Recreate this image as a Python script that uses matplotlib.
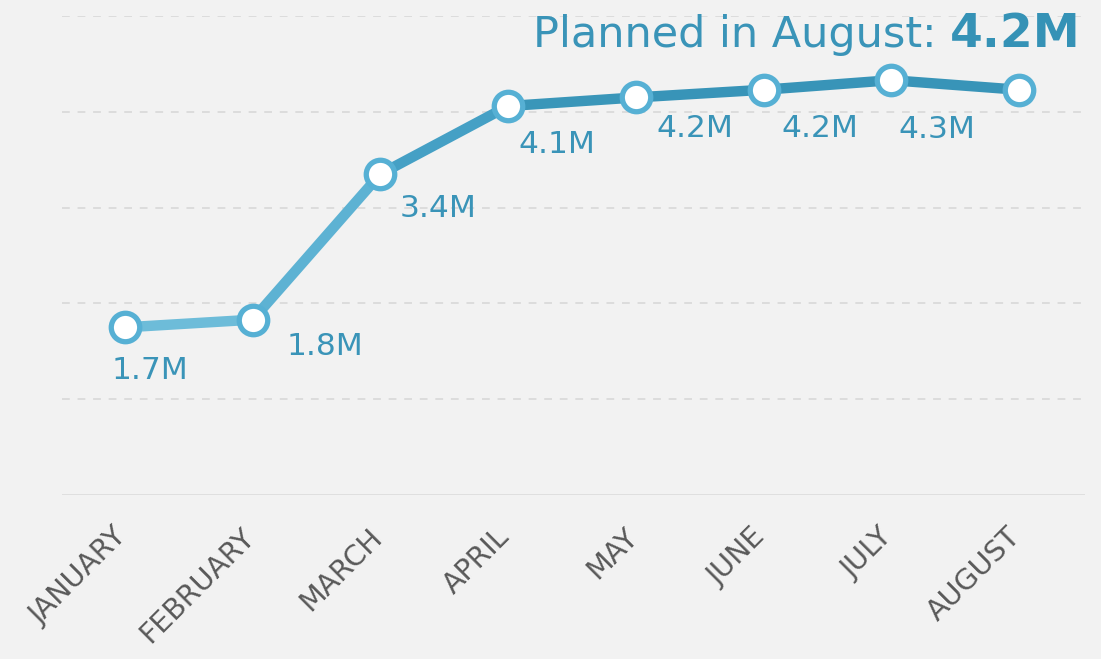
import matplotlib
matplotlib.use("Agg")
import matplotlib.pyplot as plt
import matplotlib.transforms as mtransforms
import numpy as np

months = ["JANUARY", "FEBRUARY", "MARCH", "APRIL", "MAY", "JUNE", "JULY", "AUGUST"]
values = [1.75, 1.83, 3.35, 4.06, 4.15, 4.23, 4.33, 4.23]
value_labels = ["1.7M", "1.8M", "3.4M", "4.1M", "4.2M", "4.2M", "4.3M", ""]
title_prefix = "Planned in August: "
title_value = "4.2M"

# label offsets in pixels (dx, dy downward)
label_offsets = [(25, -43), (72, -27), (58, -34), (49, -38), (59, -31), (56, -39), (46, -49), (0, 0)]
seg_colors = ["#6dbcd9", "#5db2d3", "#45a0c5", "#3a96b9", "#3894b8", "#3894b8", "#3894b8"]

BG = "#f2f2f2"
TXT = "#3a94b8"
W, H = 1101, 659
fig = plt.figure(figsize=(W / 100, H / 100), dpi=100, facecolor=BG)
ax = fig.add_axes([62 / W, (H - 495) / H, (1085 - 62) / W, (495 - 16) / H])
ax.set_facecolor(BG)

x = np.arange(len(months))
ax.set_xlim(-0.493, 7.517)
ax.set_ylim(0, 5)

for yv in [1, 2, 3, 4, 5]:
    ax.axhline(yv, color="#dcdcdc", lw=1.4, ls=(0, (4, 4)), zorder=1)
ax.axhline(0, color="#d9d9d9", lw=1.8, zorder=1)

for i in range(len(x) - 1):
    ax.plot(x[i:i + 2], values[i:i + 2], color=seg_colors[i], lw=7.5,
            solid_capstyle="round", zorder=2, clip_on=False)

ax.plot(x, values, ls="none", marker="o", ms=20.5, mfc="white", mec="#56b0d4",
        mew=3.8, zorder=3, clip_on=False)

for xi, yi, lab, (dx, dy) in zip(x, values, value_labels, label_offsets):
    if lab:
        ax.annotate(lab, (xi, yi), xytext=(dx * 0.72, dy * 0.72), textcoords="offset points",
                    ha="center", va="center", fontsize=22.5, color=TXT,
                    family="DejaVu Sans", zorder=4)

ax.set_xticks(x)
ax.set_xticklabels(months, rotation=45, ha="right", va="top", fontsize=20.5,
                   color="#595959", family="DejaVu Sans")
ax.tick_params(axis="x", length=0, pad=20)
shift = mtransforms.ScaledTranslation(7 / 100, 0, fig.dpi_scale_trans)
for lbl in ax.get_xticklabels():
    lbl.set_transform(lbl.get_transform() + shift)
ax.set_yticks([])
for s in ax.spines.values():
    s.set_visible(False)

t2 = fig.text(1081 / W, (H - 47) / H, title_value, ha="right", va="baseline",
              fontsize=34, fontweight="bold", color="#3592b6", family="DejaVu Sans")
fig.canvas.draw()
bb = t2.get_window_extent()
fig.text(bb.x0 / W, (H - 47) / H, title_prefix, ha="right", va="baseline",
         fontsize=31, color=TXT, family="DejaVu Sans")

fig.savefig("out.png", dpi=100, facecolor=BG)
